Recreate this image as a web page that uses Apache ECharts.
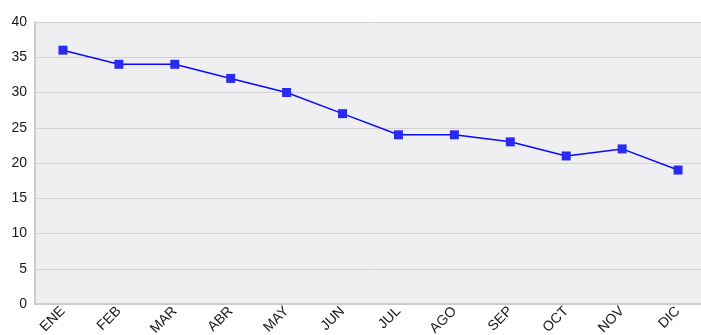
<!DOCTYPE html>
<html>
<head>
<meta charset="utf-8">
<script src="https://cdn.jsdelivr.net/npm/echarts@6/dist/echarts.min.js"></script>
<style>
  html, body { margin: 0; padding: 0; background: #fff; }
  #chart { width: 701px; height: 335px; }
</style>
</head>
<body>
<div id="chart"></div>
<script>
// Monthly values, January to December
const months = ['ENE', 'FEB', 'MAR', 'ABR', 'MAY', 'JUN', 'JUL', 'AGO', 'SEP', 'OCT', 'NOV', 'DIC'];
const values = [36, 34, 34, 32, 30, 27, 24, 24, 23, 21, 22, 19];

const chart = echarts.init(document.getElementById('chart'), null, { renderer: 'canvas' });
chart.setOption({
  animation: false,
  grid: {
    left: 35, top: 22, width: 671, height: 282,
    containLabel: false, outerBoundsMode: 'none',
    show: true, backgroundColor: '#efeff2', borderWidth: 0
  },
  xAxis: {
    type: 'category',
    data: months,
    boundaryGap: true,
    axisLine: { show: true, lineStyle: { color: '#cccccc', width: 2 } },
    axisTick: { show: false },
    axisLabel: {
      rotate: 45, color: '#1a1a1a', fontFamily: 'Liberation Sans, Arial, sans-serif',
      fontSize: 14, margin: 5, interval: 0
    },
    splitLine: { show: false }
  },
  yAxis: {
    type: 'value',
    min: 0, max: 40, interval: 5,
    axisLine: { show: true, lineStyle: { color: '#cccccc', width: 2 } },
    axisTick: { show: false },
    axisLabel: {
      color: '#1a1a1a', fontFamily: 'Liberation Sans, Arial, sans-serif',
      fontSize: 14, margin: 8, padding: [0, 0, 6, 0]
    },
    splitLine: { show: true, lineStyle: { color: '#d2d2d4', width: 1 } }
  },
  series: [{
    type: 'line',
    data: values,
    symbol: 'rect',
    symbolSize: 9,
    lineStyle: { color: '#0a0aff', width: 1.5 },
    itemStyle: { color: '#2b2bf0' }
  }]
});
</script>
</body>
</html>
